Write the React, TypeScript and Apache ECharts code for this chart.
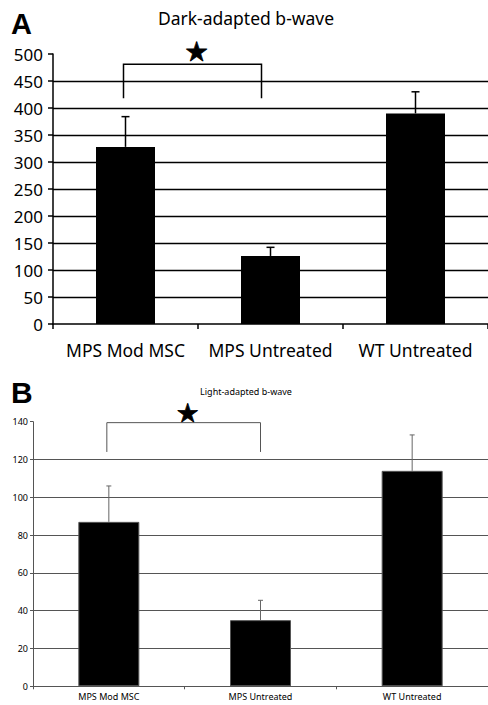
import React, { useEffect, useRef } from "react";
import * as echarts from "echarts";

const categories = ["MPS Mod MSC", "MPS Untreated", "WT Untreated"];
const darkMeans = [328, 126, 390];
const darkErrTop = [384, 142, 430];
const lightMeans = [87, 35, 114];
const lightErrTop = [106, 45.5, 133];
const darkTicks = { min: 0, max: 500, interval: 50 };
const lightTicks = { min: 0, max: 140, interval: 20 };
// significance bracket: [fromCategory, toCategory, topValue, bottomValue]
const darkBracket = [0, 1, 481, 418];
const lightBracket = [0, 1, 139.5, 124];

const FONT = "'Noto Sans', 'DejaVu Sans', sans-serif";

function errorRender(color: string, cap: number, lw: number) {
  return (params: any, api: any) => {
    const i = api.value(0);
    const p0 = api.coord([i, api.value(1)]);
    const p1 = api.coord([i, api.value(2)]);
    const style = { stroke: color, lineWidth: lw };
    return {
      type: "group",
      children: [
        { type: "line", shape: { x1: p0[0], y1: p0[1], x2: p1[0], y2: p1[1] }, style },
        { type: "line", shape: { x1: p1[0] - cap, y1: p1[1], x2: p1[0] + cap, y2: p1[1] }, style },
      ],
    };
  };
}

function bracketRender(color: string, lw: number, offL: number, offR: number, starSize: number, starDy: number) {
  return (params: any, api: any) => {
    const a = api.coord([api.value(0), api.value(2)]);
    const b = api.coord([api.value(1), api.value(2)]);
    const bot = api.coord([api.value(0), api.value(3)]);
    const xl = a[0] + offL;
    const xr = b[0] + offR;
    return {
      type: "group",
      children: [
        {
          type: "polyline",
          shape: { points: [[xl, bot[1]], [xl, a[1]], [xr, a[1]], [xr, bot[1]]] },
          style: { stroke: color, lineWidth: lw, fill: null },
        },
        {
          type: "text",
          style: {
            text: "★",
            x: (xl + xr) / 2 + 4,
            y: a[1] + starDy,
            fontSize: starSize,
            fontFamily: "DejaVu Sans",
            fill: "#000",
            stroke: "#000",
            lineWidth: 0.8,
            align: "center",
            verticalAlign: "middle",
            textAlign: "center",
            textVerticalAlign: "middle",
          },
        },
      ],
    };
  };
}

export default function App() {
  const ref = useRef<HTMLDivElement>(null);
  useEffect(() => {
    if (!ref.current) return;
    const chart = echarts.init(ref.current, null, { renderer: "svg" });
    const option: any = {
      animation: false,
      backgroundColor: "#fff",
      graphic: [
        { type: "text", left: 11, top: 9, style: { text: "A", font: "bold 29px 'Liberation Sans', Arial, sans-serif", fill: "#000" } },
        { type: "text", left: 11, top: 377, style: { text: "B", font: "bold 30px 'Liberation Sans', Arial, sans-serif", fill: "#000" } },
        { type: "text", x: 246, y: 18, style: { text: "Dark-adapted b-wave", font: `17.5px ${FONT}`, fill: "#000", align: "center", verticalAlign: "middle", textAlign: "center", textVerticalAlign: "middle" } },
        { type: "text", x: 246, y: 391, style: { text: "Light-adapted b-wave", font: `9px ${FONT}`, fill: "#000", align: "center", verticalAlign: "middle", textAlign: "center", textVerticalAlign: "middle" } },
      ],
      grid: [
        { left: 53, top: 54, width: 438, height: 270, containLabel: false },
        { left: 33, top: 421.7, width: 457.5, height: 264.6, containLabel: false },
      ],
      xAxis: [
        {
          type: "category", gridIndex: 0, data: categories,
          axisLine: { lineStyle: { color: "#000", width: 1.5 } },
          axisTick: { show: true, length: 5, lineStyle: { color: "#000", width: 1.5 } },
          axisLabel: { color: "#000", fontSize: 17.5, fontFamily: FONT, margin: 17, interval: 0, hideOverlap: false },
        },
        {
          type: "category", gridIndex: 1, data: categories,
          axisLine: { lineStyle: { color: "#555", width: 1 } },
          axisTick: { show: true, length: 3, lineStyle: { color: "#555", width: 1 } },
          axisLabel: { color: "#000", fontSize: 9, fontFamily: FONT, margin: 6, interval: 0, hideOverlap: false },
        },
      ],
      yAxis: [
        {
          type: "value", gridIndex: 0, ...darkTicks,
          axisLine: { show: true, lineStyle: { color: "#000", width: 1.5 } },
          axisTick: { show: true, length: 5, lineStyle: { color: "#000", width: 1.5 } },
          axisLabel: { color: "#000", fontSize: 17, fontFamily: FONT, margin: 10 },
          splitLine: { show: true, showMaxLine: false, showMinLine: false, lineStyle: { color: "#000", width: 1.3 } },
        },
        {
          type: "value", gridIndex: 1, ...lightTicks,
          axisLine: { show: true, lineStyle: { color: "#555", width: 1 } },
          axisTick: { show: true, length: 3, lineStyle: { color: "#555", width: 1 } },
          axisLabel: { color: "#000", fontSize: 9, fontFamily: FONT, margin: 5 },
          splitLine: { show: true, showMaxLine: false, showMinLine: false, lineStyle: { color: "#555", width: 1 } },
        },
      ],
      series: [
        {
          type: "bar", xAxisIndex: 0, yAxisIndex: 0, data: darkMeans, barWidth: 59,
          itemStyle: { color: "#000" }, z: 3,
        },
        {
          type: "custom", xAxisIndex: 0, yAxisIndex: 0, z: 4,
          data: darkMeans.map((v, i) => [i, v, darkErrTop[i]]),
          renderItem: errorRender("#000", 4, 1.5),
        },
        {
          type: "custom", xAxisIndex: 0, yAxisIndex: 0, z: 4,
          data: [darkBracket],
          renderItem: bracketRender("#000", 1.5, -2, -9, 27, -13),
        },
        {
          type: "bar", xAxisIndex: 1, yAxisIndex: 1, data: lightMeans, barWidth: 61,
          itemStyle: { color: "#000", borderColor: "#555", borderWidth: 1 }, z: 3,
        },
        {
          type: "custom", xAxisIndex: 1, yAxisIndex: 1, z: 4,
          data: lightMeans.map((v, i) => [i, v, lightErrTop[i]]),
          renderItem: errorRender("#666", 2.5, 1),
        },
        {
          type: "custom", xAxisIndex: 1, yAxisIndex: 1, z: 4,
          data: [lightBracket],
          renderItem: bracketRender("#555", 1, -2, 0, 26, -10),
        },
      ],
    };
    chart.setOption(option);
    return () => chart.dispose();
  }, []);
  return <div ref={ref} style={{ position: "fixed", left: 0, top: 0, width: 488, height: 705 }} />;
}
